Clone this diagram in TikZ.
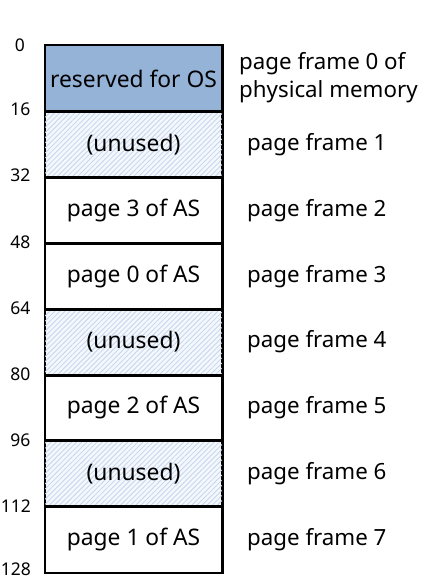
\documentclass[tikz,border=0pt]{standalone}
\usepackage{fontspec}
\setmainfont{Noto Sans}
\usetikzlibrary{patterns.meta}
\definecolor{osblue}{HTML}{95B3D7}
\definecolor{hatchblue}{HTML}{C4D5EC}
\definecolor{hatchbg}{HTML}{F4F7FC}
\begin{document}
\begin{tikzpicture}[x=1pt,y=-1pt,
  frame/.style={draw=black,line width=1.5pt,minimum width=177pt,minimum height=65.9pt,inner sep=0pt,
    font=\fontsize{22.8}{27}\selectfont},
  osframe/.style={frame,fill=osblue},
  unused/.style={frame,fill=hatchbg,postaction={pattern={Lines[angle=45,distance=3.6pt,line width=0.8pt]},pattern color=hatchblue}},
  addr/.style={anchor=east,inner sep=0pt,font=\fontsize{17.5}{21}\selectfont},
  pflabel/.style={anchor=west,inner sep=0pt,font=\fontsize{22.3}{28}\selectfont,align=left}]
\useasboundingbox (0,0) rectangle (425,585);
\def\rh{65.9}
\node[osframe] (r0) at (133.5,{45.5+\rh*0.5}) {reserved for OS};
\node[unused]  (r1) at (133.5,{45.5+\rh*1.5}) {(unused)};
\node[frame]   (r2) at (133.5,{45.5+\rh*2.5}) {page 3 of AS};
\node[frame]   (r3) at (133.5,{45.5+\rh*3.5}) {page 0 of AS};
\node[unused]  (r4) at (133.5,{45.5+\rh*4.5}) {(unused)};
\node[frame]   (r5) at (133.5,{45.5+\rh*5.5}) {page 2 of AS};
\node[unused]  (r6) at (133.5,{45.5+\rh*6.5}) {(unused)};
\node[frame]   (r7) at (133.5,{45.5+\rh*7.5}) {page 1 of AS};
% redraw borders on top
\foreach \i in {0,...,7} {\draw[line width=1.5pt] (r\i.north west) rectangle (r\i.south east);}
% addresses
\node[addr] (a0) at (25,45.5) {0};
\node[addr] (a1) at (30.5,{45.5+\rh*1-2}) {16};
\node[addr] (a2) at (30.5,{45.5+\rh*2-2}) {32};
\node[addr] (a3) at (30.5,{45.5+\rh*3-1}) {48};
\node[addr] (a4) at (30.5,{45.5+\rh*4-1}) {64};
\node[addr] (a5) at (30.5,{45.5+\rh*5-1}) {80};
\node[addr] (a6) at (30.5,{45.5+\rh*6-1}) {96};
\node[addr] (a7) at (31,{45.5+\rh*7-1}) {112};
\node[addr] (a8) at (31,{45.5+\rh*8-3}) {128};
% page frame labels
\node[pflabel] (p0) at (239,{45.5+\rh*0.5-1}) {page frame 0 of\\physical memory};
\foreach \i in {1,...,7} {
  \node[pflabel] (p\i) at (247,{45.5+\rh*(\i+0.5)}) {page frame \i};
}
\end{tikzpicture}
\end{document}
